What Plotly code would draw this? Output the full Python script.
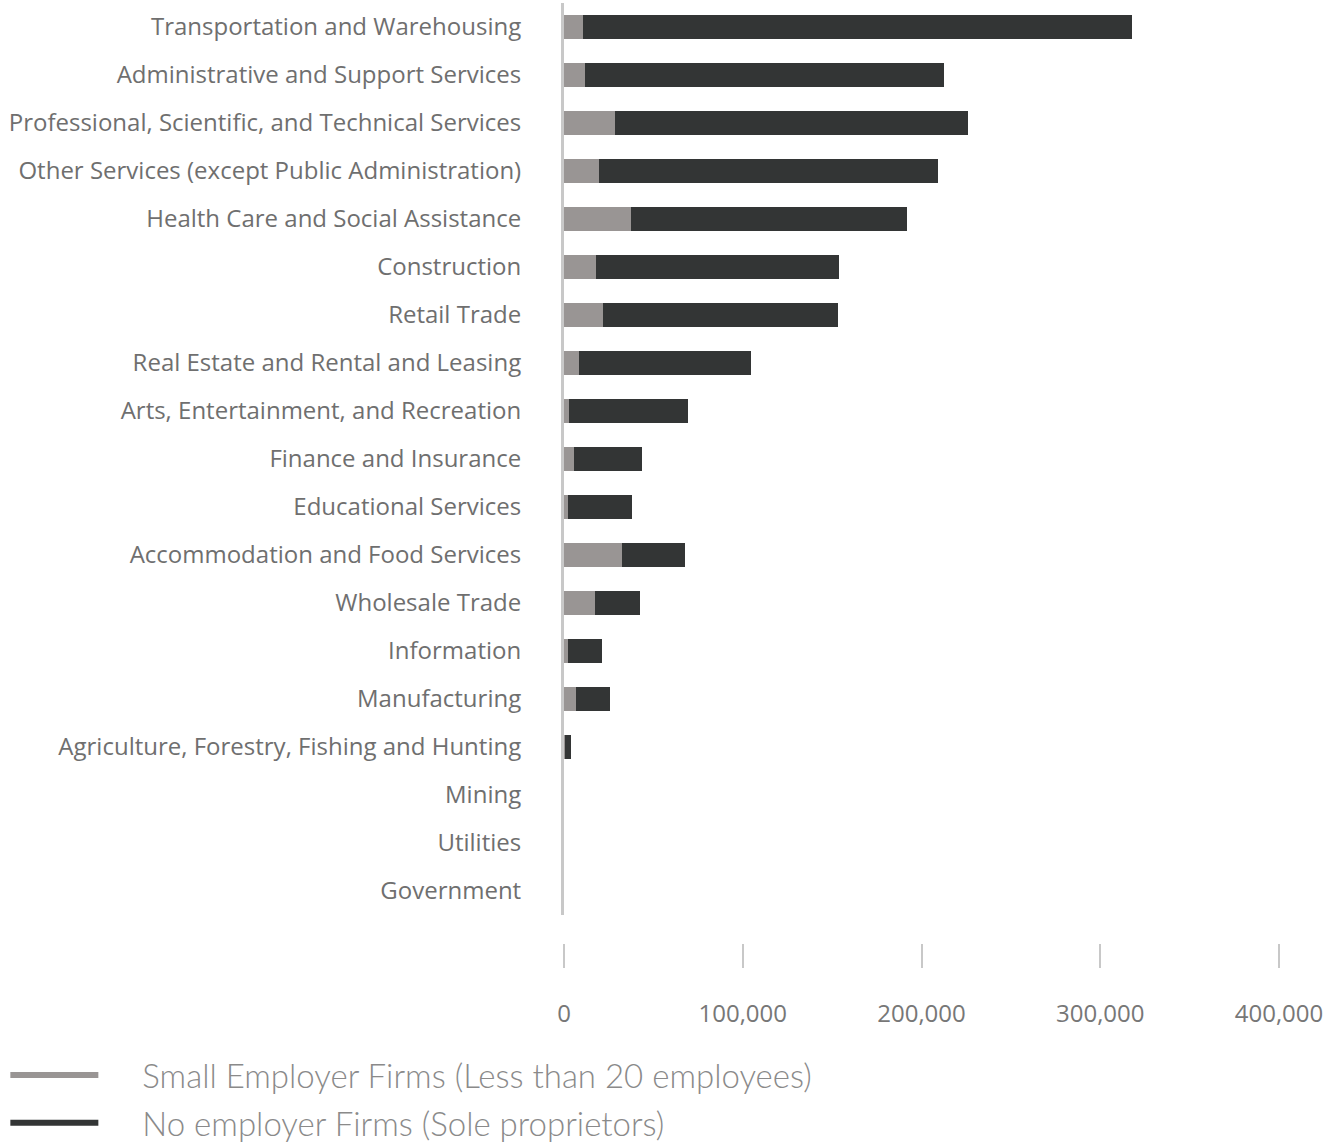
import plotly.graph_objects as go

# Industry categories, top to bottom
industries = [
    "Transportation and Warehousing",
    "Administrative and Support Services",
    "Professional, Scientific, and Technical Services",
    "Other Services (except Public Administration)",
    "Health Care and Social Assistance",
    "Construction",
    "Retail Trade",
    "Real Estate and Rental and Leasing",
    "Arts, Entertainment, and Recreation",
    "Finance and Insurance",
    "Educational Services",
    "Accommodation and Food Services",
    "Wholesale Trade",
    "Information",
    "Manufacturing",
    "Agriculture, Forestry, Fishing and Hunting",
    "Mining",
    "Utilities",
    "Government",
]

# Small employer firms (fewer than 20 employees)
small_employer = [10600, 11700, 28500, 19600, 37500, 17900, 21800, 8400, 2800, 5600,
                  2200, 32400, 17300, 2200, 6700, 300, 0, 0, 0]

# Nonemployer firms (sole proprietors)
no_employer = [307100, 200800, 197500, 189400, 154300, 135900, 131400, 96200, 66600, 38000,
               35800, 35300, 25200, 19100, 19000, 3600, 0, 0, 0]

tick_values = [0, 100000, 200000, 300000, 400000]
tick_labels = ["0", "100,000", "200,000", "300,000", "400,000"]

series_names = ["Small Employer Firms (Less than 20 employees)",
                "No employer Firms (Sole proprietors)"]
series_colors = ["#999594", "#333535"]

fig = go.Figure()

for name, values, color in zip(series_names, [small_employer, no_employer], series_colors):
    fig.add_trace(go.Bar(
        y=industries, x=values, orientation="h", name=name,
        marker=dict(color=color, line=dict(width=0)),
        showlegend=False, hoverinfo="x+y",
    ))

# Line-style legend entries; the dash keeps the swatch shorter than the item width
for i, (name, color) in enumerate(zip(series_names, series_colors)):
    fig.add_trace(go.Scatter(
        x=[None], y=[None], mode="lines", name=name, legendgroup=f"g{i}",
        line=dict(color=color, width=6, dash="88px,400px"), showlegend=True,
    ))

fig.update_layout(
    template="none",
    width=1337, height=1143,
    margin=dict(l=564, r=58, t=3, b=50, autoexpand=False),
    paper_bgcolor="white", plot_bgcolor="white",
    barmode="stack", bargap=0.5,
    font=dict(family="Open Sans", color="#6f6f6f"),
    yaxis=dict(
        domain=[0.1633, 1], automargin=False,
        categoryorder="array", categoryarray=industries, autorange="reversed",
        showgrid=False, zeroline=False,
        showline=True, linecolor="#c8c8c8", linewidth=3,
        ticks="", ticklabelstandoff=35,
        tickfont=dict(family="Open Sans", size=24, color="#6f6f6f"),
    ),
    xaxis=dict(
        range=[0, 400000], anchor="free", position=0.1376, automargin=False,
        tickvals=tick_values, ticktext=tick_labels,
        showgrid=False, zeroline=False, showline=False,
        ticks="outside", ticklen=24, tickwidth=2, tickcolor="#c8c8c8",
        ticklabelstandoff=25,
        tickfont=dict(family="Open Sans", size=24, color="#777777"),
    ),
    legend=dict(
        xref="container", yref="container", x=0.004, y=0.084, xanchor="left", yanchor="top",
        font=dict(family="Lato", size=33, color="#8a8a8a", weight=300),
        itemwidth=127, tracegroupgap=2, traceorder="grouped",
        bgcolor="rgba(0,0,0,0)",
    ),
)

fig.write_html("out.html")
